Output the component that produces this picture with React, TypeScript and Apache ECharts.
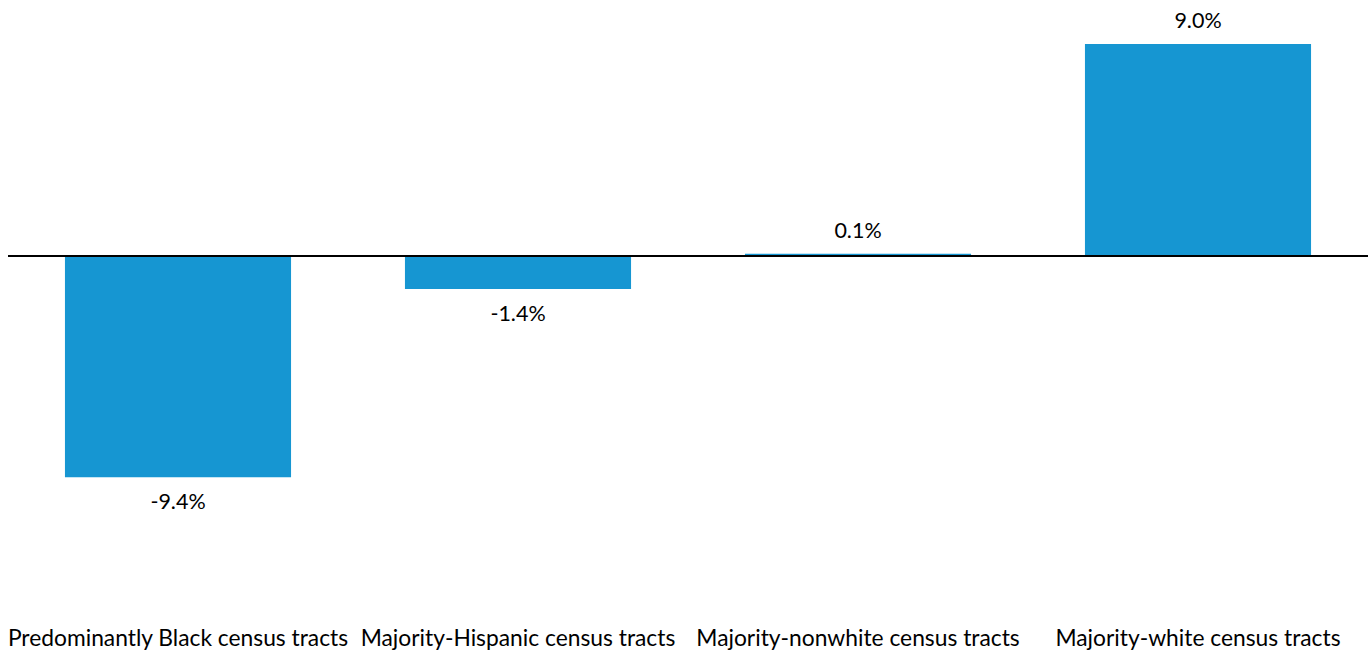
import React, { useEffect, useRef } from "react";
import * as echarts from "echarts";

const categories = [
  "Predominantly Black census tracts",
  "Majority-Hispanic census tracts",
  "Majority-nonwhite census tracts",
  "Majority-white census tracts",
];
const values = [-9.4, -1.4, 0.1, 9.0];

export default function App() {
  const ref = useRef<HTMLDivElement>(null);
  useEffect(() => {
    if (!ref.current) return;
    const chart = echarts.init(ref.current, null, { renderer: "svg" });
    chart.setOption({
      animation: false,
      textStyle: { fontFamily: "Lato" },
      grid: { left: 8, right: 0, top: 20.5, height: 471, containLabel: false },
      xAxis: {
        type: "category",
        data: categories,
        axisLine: { show: false, onZero: false },
        axisTick: { show: false },
        axisLabel: {
          margin: 134,
          fontSize: 22.8,
          color: "#000",
          fontFamily: "Lato",
          interval: 0,
        },
      },
      yAxis: {
        type: "value",
        min: -10,
        max: 10,
        interval: 5,
        show: false,
        splitLine: { show: false },
      },
      series: [
        {
          type: "bar",
          data: values.map((v) => ({
            value: v,
            label: { position: v >= 0 ? "top" : "bottom" },
          })),
          barCategoryGap: "33.5%",
          itemStyle: { color: "#1696d2" },
          label: {
            show: true,
            distance: 13,
            fontSize: 21.5,
            color: "#000",
            fontFamily: "Lato",
            formatter: (p: any) => p.value.toFixed(1) + "%",
          },
          markLine: {
            silent: true,
            symbol: "none",
            label: { show: false },
            lineStyle: { color: "#000", width: 2, type: "solid" },
            data: [{ yAxis: 0 }],
            z: 10,
          },
        },
      ],
    });
    return () => chart.dispose();
  }, []);
  return (
    <div
      ref={ref}
      style={{ position: "absolute", left: 0, top: 0, width: 1368, height: 650 }}
    />
  );
}
